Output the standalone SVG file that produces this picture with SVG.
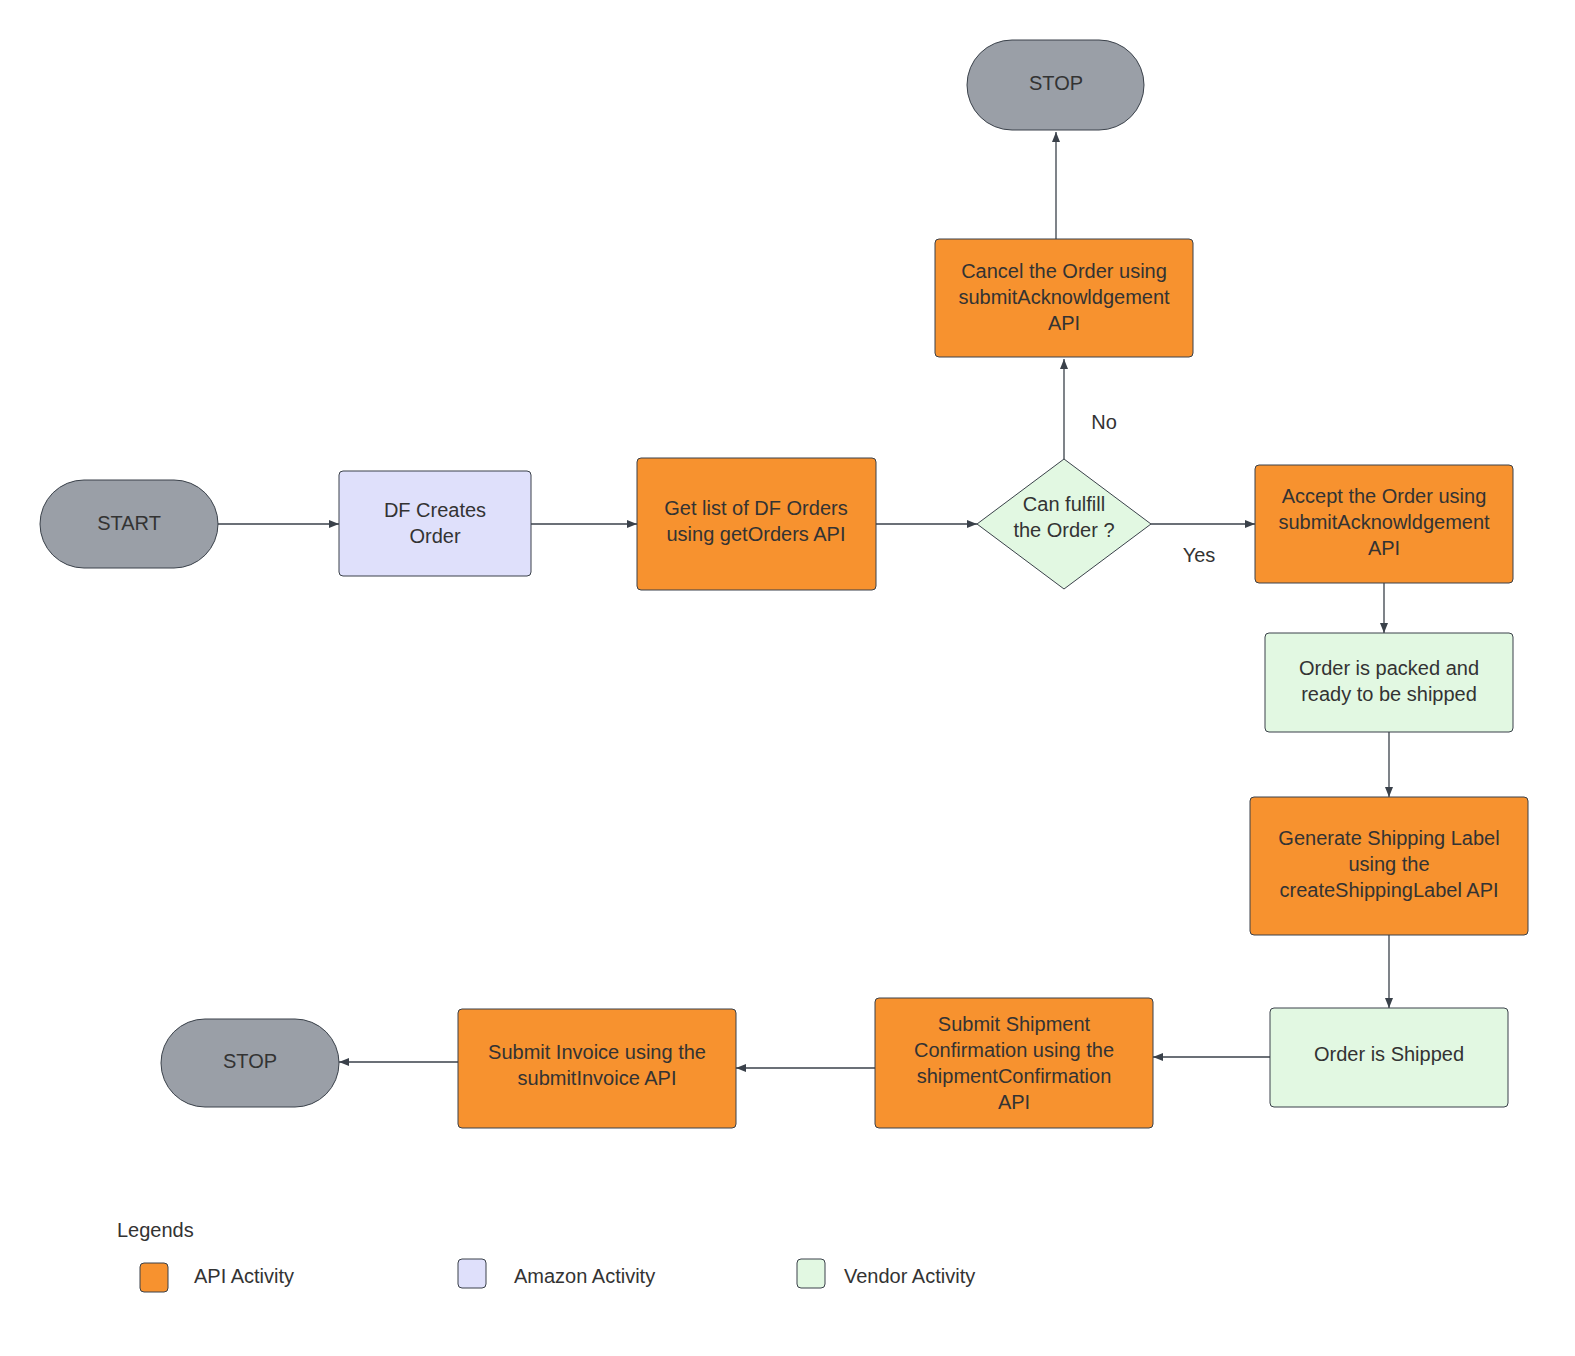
<svg xmlns="http://www.w3.org/2000/svg" width="1575" height="1356" viewBox="0 0 1575 1356">
<defs>
<marker id="ar" viewBox="0 0 10 10" refX="10" refY="5" markerWidth="10" markerHeight="10" markerUnits="userSpaceOnUse" orient="auto"><path d="M0,1 L10,5 L0,9 z" fill="#3a414a"/></marker>
<style>
text{font-family:"Liberation Sans",Arial,sans-serif;font-size:20px;fill:#333;text-anchor:middle;dominant-baseline:central}
.s{fill:#9a9fa7;stroke:#3a414a;stroke-width:1}
.o{fill:#f7922f;stroke:#3a414a;stroke-width:1}
.a{fill:#dfe0fb;stroke:#3a414a;stroke-width:1}
.v{fill:#e2f8e2;stroke:#3a414a;stroke-width:1}
.c{fill:none;stroke:#3a414a;stroke-width:1.3;marker-end:url(#ar)}
</style>
</defs>
<rect width="1575" height="1356" fill="#fff"/>
<g id="connectors">
<path class="c" d="M218,524 H339"/>
<path class="c" d="M531,524 H637"/>
<path class="c" d="M876,524 H977"/>
<path class="c" d="M1151,524 H1255"/>
<path class="c" d="M1064,459 V359"/>
<path class="c" d="M1056,239 V132"/>
<path class="c" d="M1384,583 V633"/>
<path class="c" d="M1389,732 V797"/>
<path class="c" d="M1389,935 V1008"/>
<path class="c" d="M1270,1057 H1153"/>
<path class="c" d="M875,1068 H736"/>
<path class="c" d="M458,1062 H339"/>
<text x="1104" y="422">No</text>
<text x="1199" y="555">Yes</text>
</g>
<g id="start"><rect class="s" x="40" y="480" width="178" height="88" rx="44"/><text x="129" y="523">START</text></g>
<g id="df"><rect class="a" x="339" y="471" width="192" height="105" rx="4"/><text x="435" y="510">DF Creates</text><text x="435" y="536">Order</text></g>
<g id="getlist"><rect class="o" x="637" y="458" width="239" height="132" rx="4"/><text x="756" y="508">Get list of DF Orders</text><text x="756" y="534">using getOrders API</text></g>
<g id="decision"><path class="v" d="M1064,459 L1151,524 L1064,589 L977,524 Z"/><text x="1064" y="504">Can fulfill</text><text x="1064" y="530">the Order ?</text></g>
<g id="cancel"><rect class="o" x="935" y="239" width="258" height="118" rx="4"/><text x="1064" y="271">Cancel the Order using</text><text x="1064" y="297">submitAcknowldgement</text><text x="1064" y="323">API</text></g>
<g id="stop1"><rect class="s" x="967" y="40" width="177" height="90" rx="45"/><text x="1056" y="83">STOP</text></g>
<g id="accept"><rect class="o" x="1255" y="465" width="258" height="118" rx="4"/><text x="1384" y="496">Accept the Order using</text><text x="1384" y="522">submitAcknowldgement</text><text x="1384" y="548">API</text></g>
<g id="packed"><rect class="v" x="1265" y="633" width="248" height="99" rx="4"/><text x="1389" y="668">Order is packed and</text><text x="1389" y="694">ready to be shipped</text></g>
<g id="label"><rect class="o" x="1250" y="797" width="278" height="138" rx="4"/><text x="1389" y="838">Generate Shipping Label</text><text x="1389" y="864">using the</text><text x="1389" y="890">createShippingLabel API</text></g>
<g id="shipped"><rect class="v" x="1270" y="1008" width="238" height="99" rx="4"/><text x="1389" y="1054">Order is Shipped</text></g>
<g id="shipconf"><rect class="o" x="875" y="998" width="278" height="130" rx="4"/><text x="1014" y="1024">Submit Shipment</text><text x="1014" y="1050">Confirmation using the</text><text x="1014" y="1076">shipmentConfirmation</text><text x="1014" y="1102">API</text></g>
<g id="invoice"><rect class="o" x="458" y="1009" width="278" height="119" rx="4"/><text x="597" y="1052">Submit Invoice using the</text><text x="597" y="1078">submitInvoice API</text></g>
<g id="stop2"><rect class="s" x="161" y="1019" width="178" height="88" rx="44"/><text x="250" y="1061">STOP</text></g>
<g id="legend">
<text x="117" y="1230" style="text-anchor:start">Legends</text>
<rect class="o" x="140" y="1263" width="28" height="29" rx="4"/><text x="194" y="1276" style="text-anchor:start">API Activity</text>
<rect class="a" x="458" y="1259" width="28" height="29" rx="4"/><text x="514" y="1276" style="text-anchor:start">Amazon Activity</text>
<rect class="v" x="797" y="1259" width="28" height="29" rx="4"/><text x="844" y="1276" style="text-anchor:start">Vendor Activity</text>
</g>
</svg>
